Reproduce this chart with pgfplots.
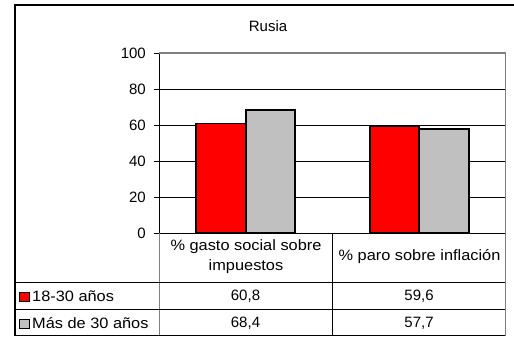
\documentclass[border=0pt]{standalone}
\usepackage{pgfplots}
\pgfplotsset{compat=1.18}
\usepackage{fontspec}
\setmainfont{Liberation Sans}
\newfontfamily\widefont{Liberation Sans}[FakeStretch=1.09]
\definecolor{barred}{RGB}{255,0,0}
\definecolor{bargray}{RGB}{192,192,192}
\definecolor{framegray}{RGB}{128,128,128}
\begin{document}
\fontsize{15bp}{18bp}\selectfont
\begin{tikzpicture}[x=1bp,y=-1bp]
\path[use as bounding box] (0,0) rectangle (514,337);
\begin{axis}[at={(159bp,-233bp)}, anchor=south west, scale only axis,
  width=347bp, height=180bp,
  xmin=-0.5, xmax=1.5, ymin=0, ymax=100,
  ytick={0,20,...,100}, xtick=\empty,
  axis x line*=bottom, axis y line*=left,
  axis line style={black, line width=0.9bp},
  tick align=outside, major tick length=5bp,
  tick style={black, line width=0.8bp},
  ymajorgrids, grid style={black, line width=0.7bp},
  yticklabel style={font=\fontsize{15bp}{18bp}\selectfont, xshift=-3bp},
  /pgf/number format/assume math mode=true,
  clip=false]
\addplot[ybar, bar width=49.5bp, bar shift=-24.75bp, fill=barred, draw=black, line width=1.8bp]
  coordinates {(0,60.8) (1,59.6)};
\addplot[ybar, bar width=49.5bp, bar shift=24.75bp, fill=bargray, draw=black, line width=1.8bp]
  coordinates {(0,68.4) (1,57.7)};
\end{axis}
% outer border
\draw[black, line width=1.2bp] (15,335.5) -- (15,5) -- (514,5);
% plot frame (gray top and right)
\draw[framegray, line width=1.2bp] (159,53) -- (505.5,53) -- (505.5,335.5);
\draw[framegray, line width=0.9bp] (159,233) -- (159,335.5);
% table lines
\draw[black, line width=0.9bp] (15,282) -- (505,282);
\draw[black, line width=0.9bp] (15,309) -- (505,309);
\draw[black, line width=0.9bp] (15,335.5) -- (505,335.5);
\draw[black, line width=0.9bp] (332,233) -- (332,335.5);
% title
\node at (268,26) {Rusia};
% category labels
\node[align=center, font=\widefont\fontsize{15bp}{20bp}\selectfont] at (246,257) {\% gasto social sobre\\impuestos};
\node[font=\widefont\fontsize{15bp}{18bp}\selectfont] at (419.5,257) {\% paro sobre inflación};
% legend keys
\draw[black, line width=0.9bp, fill=barred] (19.5,292) rectangle (29,301.5);
\draw[black, line width=0.9bp, fill=bargray] (19.5,319) rectangle (29,328.5);
\node[anchor=west, inner sep=0pt, font=\widefont\fontsize{15bp}{18bp}\selectfont] at (32,296.5) {18-30 años};
\node[anchor=west, inner sep=0pt, font=\widefont\fontsize{15bp}{18bp}\selectfont] at (32,323.5) {Más de 30 años};
% values
\node at (245.5,296) {60,8};
\node at (419,296) {59,6};
\node at (245.5,323) {68,4};
\node at (419,323) {57,7};
\end{tikzpicture}
\end{document}
